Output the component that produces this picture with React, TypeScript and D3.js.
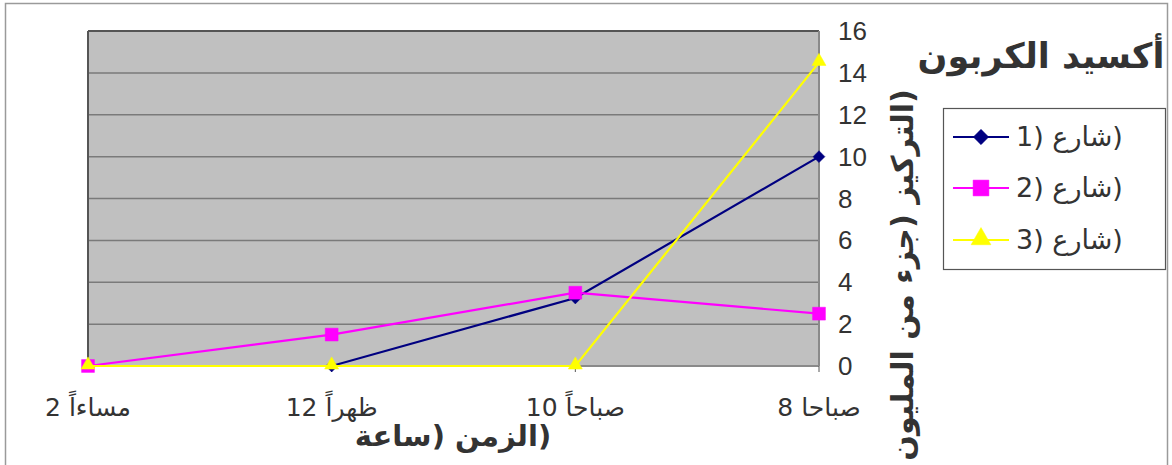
import React from 'react';
import * as d3 from 'd3';

// labels are stored in the visual order the reference shows them (LRM keeps words apart)
const LRM = '\u200E';
const categories = ['8am', '10am', '12pm', '2pm'];
const categoryLabels = ['8 صباحا', '10 صباحاً', '12 ظهراً', '2 مساءاً'];
const street1 = [10, 3.25, 0, 0];
const street2 = [2.5, 3.5, 1.5, 0];
const street3 = [14.5, 0, 0, 0];
const yTicks = [0, 2, 4, 6, 8, 10, 12, 14, 16];

const seriesNames = ['1) شارع)', '2) شارع)', '3) شارع)'];
const title = 'أكسيد الكربون';
const xTitle = 'ساعة' + LRM + ') ' + 'الزمن' + LRM + ')';
const yTitle = 'المليون' + LRM + ' ' + 'من' + LRM + ' ' + 'جزء' + LRM + ') ' + 'التركيز' + LRM + ')';

const W = 1172;
const H = 465;
const plot = { left: 88, right: 819, top: 31, bottom: 366 };
const FONT = '"Liberation Sans", "DejaVu Sans", Arial, sans-serif';
const DV_FONT = '"DejaVu Sans", sans-serif';

const series = [
  { name: seriesNames[0], values: street1, color: '#000080', marker: 'diamond' },
  { name: seriesNames[1], values: street2, color: '#FF00FF', marker: 'square' },
  { name: seriesNames[2], values: street3, color: '#FFFF00', marker: 'triangle' },
];

// the chart reads right to left: first category sits on the right
const x = d3.scalePoint<string>()
  .domain([...categories].reverse())
  .range([plot.left, plot.right])
  .padding(0);

const y = d3.scaleLinear().domain([0, 16]).range([plot.bottom, plot.top]);

const markerPath = (type: string, big: boolean) => {
  if (type === 'diamond') return d3.symbol(d3.symbolDiamond2, big ? 150 : 90)();
  if (type === 'square') return d3.symbol(d3.symbolSquare, big ? 250 : 165)();
  return d3.symbol(d3.symbolTriangle, big ? 170 : 85)();
};

const Marker = ({ type, color, cx, cy, big = false }: { type: string; color: string; cx: number; cy: number; big?: boolean }) => {
  const dy = type === 'triangle' ? -1 : 0;
  return <path d={markerPath(type, big) || ''} transform={`translate(${cx},${cy + dy})`} fill={color} stroke={color} strokeWidth={0.5} />;
};

export default function App() {
  const line = d3.line<number>()
    .x((_, i) => x(categories[i]) as number)
    .y(d => y(d));

  const legendX = 943;
  const legendY = 108;
  const legendRows = [137, 188, 240];

  return (
    <svg width={W} height={H} style={{ position: 'absolute', left: 0, top: 0, background: '#fff' }}>
      {/* outer chart frame */}
      <rect x={5.5} y={3.5} width={1162} height={480} fill="#fff" stroke="#9a9a9a" strokeWidth={1.5} />

      {/* plot area */}
      <rect x={plot.left} y={plot.top} width={plot.right - plot.left} height={plot.bottom - plot.top} fill="#C0C0C0" />
      {yTicks.map(t => (
        <line key={t} x1={plot.left} x2={plot.right} y1={y(t)} y2={y(t)} stroke="#7a7a7a" strokeWidth={1.5} />
      ))}
      <line x1={plot.left} x2={plot.right} y1={plot.top} y2={plot.top} stroke="#555" strokeWidth={2} />
      <line x1={plot.left} x2={plot.left} y1={plot.top} y2={plot.bottom} stroke="#555" strokeWidth={2} />
      <line x1={plot.right} x2={plot.right} y1={plot.top} y2={plot.bottom} stroke="#8a8a8a" strokeWidth={2} />
      <line x1={plot.left} x2={plot.right} y1={plot.bottom} y2={plot.bottom} stroke="#8a8a8a" strokeWidth={2} />

      {/* x ticks and labels */}
      {categories.map((c, i) => (
        <g key={c} transform={`translate(${x(c)},0)`}>
          <line y1={plot.bottom} y2={plot.bottom + 6} stroke="#555" strokeWidth={1} />
          <text y={416} textAnchor="middle" fontFamily={DV_FONT} fontSize={25} fill="#333">{categoryLabels[i]}</text>
        </g>
      ))}

      {/* y tick labels on the right */}
      {yTicks.map(t => (
        <text key={t} x={838} y={y(t)} dy="0.35em" fontFamily={FONT} fontSize={26} fill="#333">{t}</text>
      ))}

      {/* series */}
      {series.map(s => (
        <g key={s.name}>
          <path d={line(s.values) || ''} fill="none" stroke={s.color} strokeWidth={2.2} />
          {s.values.map((v, i) => (
            <Marker key={i} type={s.marker} color={s.color} cx={x(categories[i]) as number} cy={y(v)} />
          ))}
        </g>
      ))}

      {/* titles */}
      <text x={1041} y={68} textAnchor="middle" fontFamily={DV_FONT} fontWeight="bold" fontSize={35} fill="#333">{title}</text>
      <text x={453} y={446} textAnchor="middle" fontFamily={DV_FONT} fontWeight="bold" fontSize={29} fill="#333">{xTitle}</text>
      <text transform="translate(913,275) rotate(-90)" textAnchor="middle" fontFamily={DV_FONT} fontWeight="bold" fontSize={30} fill="#333">{yTitle}</text>

      {/* legend */}
      <rect x={legendX + 0.5} y={legendY + 0.5} width={222} height={161} fill="#fff" stroke="#555" strokeWidth={1.2} />
      {series.map((s, i) => (
        <g key={s.name}>
          <line x1={953} x2={1009} y1={legendRows[i]} y2={legendRows[i]} stroke={s.color} strokeWidth={2.2} />
          <Marker type={s.marker} color={s.color} cx={981} cy={legendRows[i]} big />
          <text x={1016} y={legendRows[i]} dy="0.35em" fontFamily={DV_FONT} fontSize={27} fill="#333">{s.name}</text>
        </g>
      ))}
    </svg>
  );
}
